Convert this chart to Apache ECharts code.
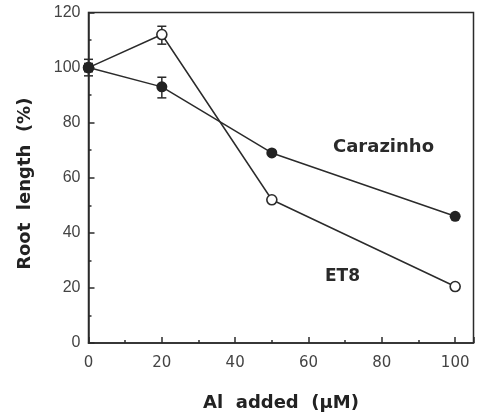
<!DOCTYPE html>
<html><head><meta charset="utf-8">
<script src="https://cdn.jsdelivr.net/npm/echarts@6/dist/echarts.min.js"></script>
<style>html,body{margin:0;padding:0;background:#fff}#c{width:479px;height:417px}</style>
</head><body><div id="c"></div>
<script>
// Data
const alAdded = [0, 20, 50, 100];
const carazinho = [100, 93, 69, 46];
const et8 = [100, 112, 52, 20.5];
// error bars: [x, low, high]
const carazinhoErr = [[0, 97, 103], [20, 89, 96.5]];
const et8Err = [[0, 98.5, 101.5], [20, 108.5, 115]];
const xTickLabels = [0, 20, 40, 60, 80, 100];
const yTickLabels = [0, 20, 40, 60, 80, 100, 120];

const ink = '#2b2b2b';
const chart = echarts.init(document.getElementById('c'), null, {renderer: 'canvas'});

function errRender(params, api) {
  const x = api.value(0), lo = api.value(1), hi = api.value(2);
  const p1 = api.coord([x, lo]), p2 = api.coord([x, hi]);
  const w = 4.5;
  const st = {stroke: ink, lineWidth: 1.5};
  return {type: 'group', children: [
    {type: 'line', shape: {x1: p1[0], y1: p1[1], x2: p2[0], y2: p2[1]}, style: st},
    {type: 'line', shape: {x1: p1[0]-w, y1: p1[1], x2: p1[0]+w, y2: p1[1]}, style: st},
    {type: 'line', shape: {x1: p2[0]-w, y1: p2[1], x2: p2[0]+w, y2: p2[1]}, style: st}
  ]};
}

chart.setOption({
  animation: false,
  backgroundColor: '#fff',
  grid: {left: 88.5, right: 5.5, top: 12.5, bottom: 72, show: true, borderColor: ink, borderWidth: 1.5, backgroundColor: 'transparent'},
  xAxis: [{
    type: 'value', min: 0, max: 105, interval: 10, position: 'bottom',
    axisLine: {show: true, lineStyle: {color: ink, width: 1.5}},
    axisTick: {show: true, inside: true, length: 3, lineStyle: {color: ink, width: 1.5}},
    splitLine: {show: false},
    axisLabel: {
      margin: 13, color: '#444', fontFamily: 'DejaVu Sans', fontSize: 15,
      formatter: v => (xTickLabels.indexOf(v) >= 0 ? String(v) : '')
    },
    name: 'Al  added  (\u03bcM)', nameLocation: 'middle', nameGap: 51,
    nameTextStyle: {fontFamily: 'DejaVu Sans', fontWeight: 'bold', fontSize: 18, color: '#222'}
  }, {
    type: 'value', min: 0, max: 105, interval: 20, position: 'bottom',
    axisLine: {show: false},
    axisTick: {show: true, inside: true, length: 6, lineStyle: {color: ink, width: 1.5}},
    axisLabel: {show: false}, splitLine: {show: false}
  }],
  yAxis: {
    type: 'value', min: 0, max: 120, interval: 20,
    axisLine: {show: true, lineStyle: {color: ink, width: 1.5}},
    axisTick: {show: true, inside: true, length: 6, lineStyle: {color: ink, width: 1.5}},
    minorTick: {show: true, splitNumber: 2, length: 3, lineStyle: {color: ink, width: 1.5}},
    splitLine: {show: false},
    axisLabel: {
      margin: 8, color: '#444', fontFamily: 'Liberation Sans', fontSize: 16,
      formatter: v => (yTickLabels.indexOf(v) >= 0 ? String(v) : '')
    },
    name: 'Root  length  (%)', nameLocation: 'middle', nameGap: 54,
    nameTextStyle: {fontFamily: 'DejaVu Sans', fontWeight: 'bold', fontSize: 18, color: '#222', padding: [0, 12, 0, 0]}
  },
  series: [
    {type: 'custom', name: 'et8err', renderItem: errRender, data: et8Err, z: 1, silent: true},
    {type: 'custom', name: 'carerr', renderItem: errRender, data: carazinhoErr, z: 1, silent: true},
    {
      type: 'line', name: 'ET8', data: alAdded.map((x, i) => [x, et8[i]]), z: 2,
      symbol: 'circle', symbolSize: 10, showSymbol: true,
      lineStyle: {color: ink, width: 1.5},
      itemStyle: {color: '#fff', borderColor: ink, borderWidth: 1.6}
    },
    {
      type: 'line', name: 'Carazinho', data: alAdded.map((x, i) => [x, carazinho[i]]), z: 3,
      symbol: 'circle', symbolSize: 11, showSymbol: true,
      lineStyle: {color: ink, width: 1.5},
      itemStyle: {color: '#222', borderColor: '#222', borderWidth: 0}
    }
  ],
  graphic: [
    {type: 'text', left: 333, top: 138, style: {text: 'Carazinho', fill: '#2a2a2a', font: 'bold 18px "DejaVu Sans"'}},
    {type: 'text', left: 325, top: 268, style: {text: 'ET8', fill: '#2a2a2a', font: 'bold 17px "DejaVu Sans"'}}
  ]
});
</script></body></html>
